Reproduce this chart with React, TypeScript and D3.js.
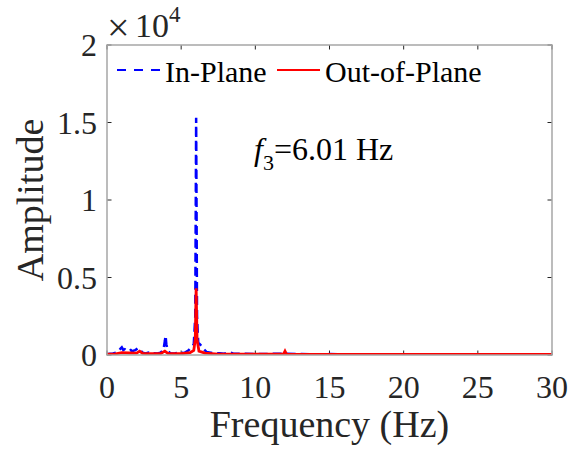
import React from "react";
import * as d3 from "d3";

const inPlaneFreq = [0, 0.2, 0.4, 0.6, 0.8, 0.9, 1.0, 1.05, 1.1, 1.2, 1.3, 1.4, 1.5, 1.6, 1.7, 1.8, 1.9, 2.0, 2.1, 2.2, 2.3, 2.4, 2.6, 2.8, 3.0, 3.2, 3.4, 3.6, 3.8, 3.9, 3.95, 4.0, 4.1, 4.3, 4.6, 4.9, 5.2, 5.5, 5.7, 5.85, 5.95, 6.01, 6.07, 6.15, 6.3, 6.5, 6.7, 7.0, 7.3, 7.6, 7.9, 8.2, 8.5, 9.0, 10, 11, 12, 13, 14, 15, 16, 17, 18, 19, 20, 21, 22, 23, 24, 25, 26, 27, 28, 29, 30];
const inPlaneAmp = [50, 80, 100, 150, 250, 400, 500, 420, 320, 370, 300, 340, 270, 320, 240, 280, 320, 380, 450, 400, 260, 150, 100, 150, 80, 120, 100, 150, 300, 900, 1250, 700, 250, 100, 120, 150, 130, 300, 500, 700, 2500, 15300, 2500, 800, 650, 400, 200, 150, 100, 120, 80, 180, 100, 80, 60, 70, 90, 60, 50, 60, 50, 45, 50, 40, 45, 40, 50, 40, 45, 40, 40, 45, 40, 40, 40];

const outPlaneFreq = [0, 0.5, 1.0, 1.5, 2.0, 2.2, 2.4, 3.0, 3.6, 3.9, 4.1, 5.0, 5.6, 5.85, 5.95, 6.01, 6.07, 6.2, 6.6, 7.5, 9, 11.9, 12.0, 12.1, 15, 20, 25, 30];
const outPlaneAmp = [50, 60, 150, 130, 120, 250, 100, 80, 80, 250, 100, 80, 150, 300, 1000, 4300, 1000, 250, 120, 60, 50, 50, 250, 50, 40, 40, 40, 40];

const xTicks = [0, 5, 10, 15, 20, 25, 30];
const yTicks = [0, 5000, 10000, 15000, 20000];
const yTickLabels = ["0", "0.5", "1", "1.5", "2"];

const W = 571, H = 457;
const m = { left: 107, right: 552, top: 45, bottom: 355 };
const font = "'Liberation Serif', 'Times New Roman', serif";

export default function App() {
  const x = d3.scaleLinear().domain([0, 30]).range([m.left, m.right]);
  const y = d3.scaleLinear().domain([0, 20000]).range([m.bottom, m.top]);
  const line = d3.line<[number, number]>().x(d => x(d[0])).y(d => y(d[1]));
  const blue = line(inPlaneFreq.map((f, i) => [f, inPlaneAmp[i]] as [number, number])) || "";
  const red = line(outPlaneFreq.map((f, i) => [f, outPlaneAmp[i]] as [number, number])) || "";
  const tickColor = "#262626";
  return (
    <svg width={W} height={H} style={{ position: "absolute", left: 0, top: 0, background: "#fff" }} fontFamily={font}>
      <defs>
        <clipPath id="plotclip">
          <rect x={m.left} y={m.top} width={m.right - m.left} height={m.bottom - m.top} />
        </clipPath>
      </defs>
      <rect x={0} y={0} width={W} height={H} fill="#fff" />
      {xTicks.map(t => (
        <g key={"x" + t}>
          <line x1={x(t)} x2={x(t)} y1={m.bottom} y2={m.bottom - 4.5} stroke={tickColor} strokeWidth={1} />
          <line x1={x(t)} x2={x(t)} y1={m.top} y2={m.top + 4.5} stroke={tickColor} strokeWidth={1} />
          <text x={x(t)} y={398} textAnchor="middle" fontSize={32} fill={tickColor}>{t}</text>
        </g>
      ))}
      {yTicks.map((t, i) => (
        <g key={"y" + t}>
          <line x1={m.left} x2={m.left + 4.5} y1={y(t)} y2={y(t)} stroke={tickColor} strokeWidth={1} />
          <line x1={m.right} x2={m.right - 4.5} y1={y(t)} y2={y(t)} stroke={tickColor} strokeWidth={1} />
          <text x={97} y={y(t) + 11} textAnchor="end" fontSize={32} fill={tickColor}>{yTickLabels[i]}</text>
        </g>
      ))}
      <g clipPath="url(#plotclip)">
        <path d={blue} fill="none" stroke="#0000ff" strokeWidth={2.5} strokeDasharray="9,5" />
        <path d={red} fill="none" stroke="#ff0000" strokeWidth={2.8} />
      </g>
      <rect x={m.left} y={m.top} width={m.right - m.left} height={m.bottom - m.top} fill="none" stroke="#a6a6a6" strokeWidth={1.5} />
      <text x={107} y={41} fontSize={40} fill={tickColor}>×</text>
      <text x={135} y={37} fontSize={34} fill={tickColor}>
        10<tspan fontSize={23} dy={-15}>4</tspan>
      </text>
      <line x1={117} x2={160} y1={70} y2={70} stroke="#0000ff" strokeWidth={2} strokeDasharray="9,8" />
      <text x={165} y={82} fontSize={30} fill="#000">In-Plane</text>
      <line x1={277} x2={320} y1={70} y2={70} stroke="#ff0000" strokeWidth={2} />
      <text x={325} y={82} fontSize={30} fill="#000">Out-of-Plane</text>
      <text x={254} y={160} fontSize={32} fill="#000">
        <tspan fontStyle="italic">f</tspan>
        <tspan fontSize={22} dy={10}>3</tspan>
        <tspan dy={-10}>=6.01 Hz</tspan>
      </text>
      <text x={(m.left + m.right) / 2} y={437} textAnchor="middle" fontSize={38} fill={tickColor}>Frequency (Hz)</text>
      <text transform={`translate(43, ${(m.top + m.bottom) / 2}) rotate(-90)`} textAnchor="middle" fontSize={38} fill={tickColor}>Amplitude</text>
    </svg>
  );
}
